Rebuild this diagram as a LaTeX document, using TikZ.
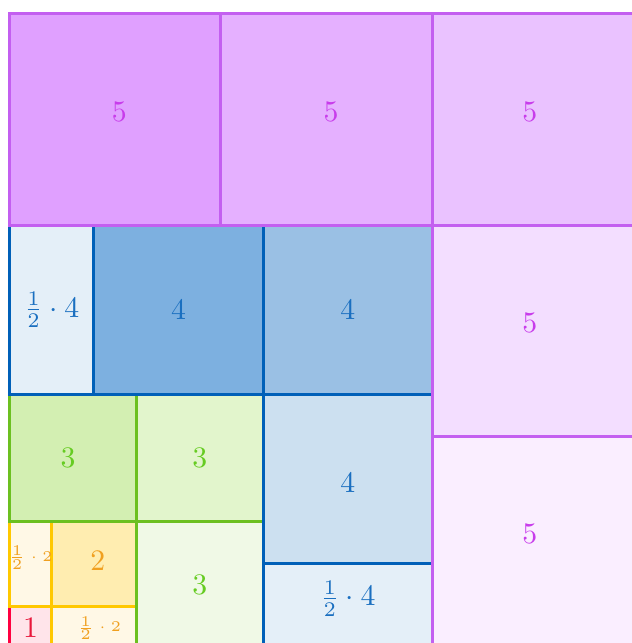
\documentclass[tikz,border=0pt]{standalone}
\usepackage{amsmath}
\definecolor{pline}{RGB}{195,95,240}
\definecolor{ptext}{RGB}{200,60,235}
\definecolor{pA}{RGB}{224,160,255}
\definecolor{pB}{RGB}{229,176,255}
\definecolor{pC}{RGB}{234,194,255}
\definecolor{pD}{RGB}{243,222,255}
\definecolor{pE}{RGB}{250,238,255}
\definecolor{bline}{RGB}{0,96,184}
\definecolor{btext}{RGB}{26,111,192}
\definecolor{bA}{RGB}{125,176,224}
\definecolor{bB}{RGB}{154,192,228}
\definecolor{bC}{RGB}{204,224,240}
\definecolor{bD}{RGB}{228,239,248}
\definecolor{gline}{RGB}{108,192,32}
\definecolor{gtext}{RGB}{102,204,34}
\definecolor{gA}{RGB}{211,239,178}
\definecolor{gB}{RGB}{226,245,204}
\definecolor{gC}{RGB}{240,249,230}
\definecolor{yline}{RGB}{255,200,0}
\definecolor{ytext}{RGB}{240,160,32}
\definecolor{yA}{RGB}{255,237,176}
\definecolor{yB}{RGB}{255,248,230}
\definecolor{rline}{RGB}{255,0,64}
\definecolor{rtext}{RGB}{232,24,60}
\definecolor{rA}{RGB}{255,228,234}
\tikzset{
  cell/.style={line width=1pt},
  rcell/.style={cell, draw=rline},
  ycell/.style={cell, draw=yline},
  gcell/.style={cell, draw=gline},
  bcell/.style={cell, draw=bline},
  pcell/.style={cell, draw=pline},
  rlab/.style={text=rtext},
  ylab/.style={text=ytext},
  glab/.style={text=gtext},
  blab/.style={text=btext},
  plab/.style={text=ptext},
}
\begin{document}
\begin{tikzpicture}[x=0.5cm,y=0.5cm]
\useasboundingbox (-0.22,0.127) rectangle (14.71,15.318);
\clip (-0.22,0.127) rectangle (14.71,15.318);
% red
\draw[rcell, fill=rA] (0,0) rectangle (1,1);
\node[rlab] (r1) at (0.5,0.5) {1};
% yellow
\draw[ycell, fill=yB] (1,0) rectangle (3,1);
\draw[ycell, fill=yB] (0,1) rectangle (1,3);
\draw[ycell, fill=yA] (1,1) rectangle (3,3);
\node[ylab, font=\tiny] (y1) at (2.12,0.48) {$\frac{1}{2}\cdot 2$};
\node[ylab, font=\tiny] (y2) at (0.5,2.14) {$\frac{1}{2}\cdot 2$};
\node[ylab] (y3) at (2.09,2.08) {2};
% green
\draw[gcell, fill=gC] (3,0) rectangle (6,3);
\draw[gcell, fill=gA] (0,3) rectangle (3,6);
\draw[gcell, fill=gB] (3,3) rectangle (6,6);
\node[glab] (g1) at (4.5,1.5) {3};
\node[glab] (g2) at (1.39,4.5) {3};
\node[glab] (g3) at (4.5,4.5) {3};
% blue
\draw[bcell, fill=bD] (6,0) rectangle (10,2);
\draw[bcell, fill=bC] (6,2) rectangle (10,6);
\draw[bcell, fill=bD] (0,6) rectangle (2,10);
\draw[bcell, fill=bA] (2,6) rectangle (6,10);
\draw[bcell, fill=bB] (6,6) rectangle (10,10);
\node[blab] (b1) at (8,1.18) {$\frac{1}{2}\cdot 4$};
\node[blab] (b2) at (8,3.92) {4};
\node[blab] (b3) at (1,8) {$\frac{1}{2}\cdot 4$};
\node[blab] (b4) at (4,8) {4};
\node[blab] (b5) at (8,8) {4};
% purple
\draw[pcell, fill=pE] (10,0) rectangle (15,5);
\draw[pcell, fill=pD] (10,5) rectangle (15,10);
\draw[pcell, fill=pA] (0,10) rectangle (5,15);
\draw[pcell, fill=pB] (5,10) rectangle (10,15);
\draw[pcell, fill=pC] (10,10) rectangle (15,15);
\node[plab] (p1) at (12.3,2.7) {5};
\node[plab] (p2) at (12.3,7.7) {5};
\node[plab] (p3) at (2.6,12.68) {5};
\node[plab] (p4) at (7.6,12.68) {5};
\node[plab] (p5) at (12.3,12.68) {5};
\end{tikzpicture}
\end{document}
